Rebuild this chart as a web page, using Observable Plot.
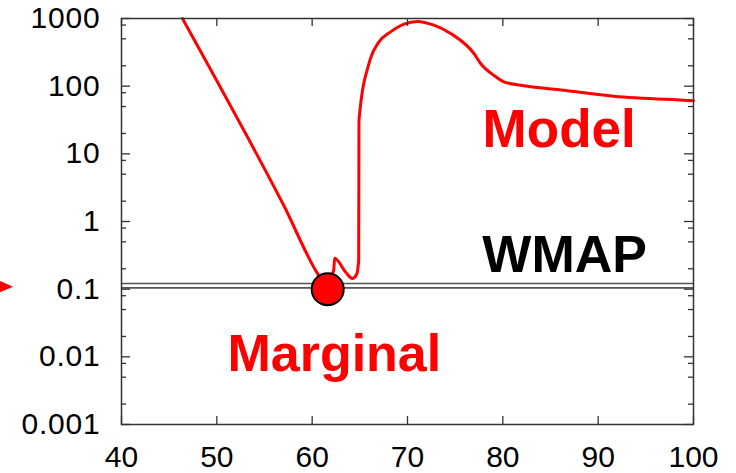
<!DOCTYPE html>
<html>
<head>
<meta charset="utf-8">
<script src="https://cdn.jsdelivr.net/npm/d3@7"></script>
<script src="https://cdn.jsdelivr.net/npm/@observablehq/plot@0.6"></script>
<style>
  html, body { margin: 0; padding: 0; background: #fff; }
  .ylab text { letter-spacing: 0.8px; }
</style>
</head>
<body>
<div id="chart"></div>
<script>
// ---- data ----
const xTicks = [40, 50, 60, 70, 80, 90, 100];
const yTicks = [0.001, 0.01, 0.1, 1, 10, 100, 1000];
const yTickLabels = ["0.001", "0.01", "0.1", "1", "10", "100", "1000"];
const yMinorTicks = [0.002, 0.005, 0.008, 0.02, 0.05, 0.08, 0.2, 0.5, 0.8,
                     2, 5, 8, 20, 50, 80, 200, 500, 800];

// Model curve (red)
const modelX = [46.4, 50.0, 53.4, 57.0, 60.55, 61.3, 62.26, 62.36, 63.52, 64.22, 64.67, 64.88, 64.91,
                66.06, 67.01, 68.23, 69.63, 71.03, 72.77, 74.53, 76.97, 77.67, 79.2, 80.11,
                81.87, 86.4, 91.65, 98.99, 100];
const modelY = [1000, 120, 15.9, 1.75, 0.171, 0.119, 0.19, 0.287, 0.178, 0.144, 0.166, 0.268, 31.4,
                242, 451, 634, 824, 903, 796, 600, 304, 216, 140, 116,
                103, 87, 71, 62, 61];

// WMAP band (two horizontal lines)
const wmapLevels = [0.1045, 0.121];

// Marginal point
const marginalX = [61.63];
const marginalY = [0.1];

// Annotations
const labelText = ["Model", "WMAP", "Marginal"];
const labelColor = ["#ff0000", "#000000", "#ff0000"];

// ---- build tables ----
const model = modelX.map((x, i) => ({x, y: modelY[i]}));
const marginal = marginalX.map((x, i) => ({x, y: marginalY[i]}));
const annotations = [
  {text: labelText[0], x: 77.88, y: 22.6, color: labelColor[0], size: 53},
  {text: labelText[1], x: 77.85, y: 0.321, color: labelColor[1], size: 52},
  {text: labelText[2], x: 51.11, y: 0.0109, color: labelColor[2], size: 52}
];

const W = 736, H = 473, mL = 121, mR = 43, mT = 18, mB = 49;
const plotW = W - mL - mR, plotH = H - mT - mB;
const frameColor = "#333";

const arrowSymbol = {
  draw(context, size) {
    const s = Math.sqrt(size / Math.PI);
    context.moveTo(s, 0);
    context.lineTo(-s, -s * 0.85);
    context.lineTo(-s, s * 0.85);
    context.closePath();
  }
};

const chart = Plot.plot({
  width: W,
  height: H,
  marginLeft: mL,
  marginRight: mR,
  marginTop: mT,
  marginBottom: mB,
  style: {
    fontFamily: "'Liberation Sans', Arial, Helvetica, sans-serif",
    fontSize: "30px",
    color: "#000",
    background: "#fff"
  },
  x: {domain: [40, 100]},
  y: {type: "log", domain: [0.001, 1000]},
  marks: [
    // WMAP lines
    Plot.ruleY(wmapLevels, {y: d => d, stroke: "#555", strokeWidth: 1.6}),
    // Model curve
    Plot.line(model, {x: "x", y: "y", stroke: "#ff0000", strokeWidth: 3, curve: "monotone-x"}),
    // Marginal point
    Plot.dot(marginal, {x: "x", y: "y", r: 16, fill: "#ff0000", stroke: "#000", strokeWidth: 2}),
    // red arrow at far left, pointing at 0.1
    Plot.dot([{x: 40, y: 0.109}], {x: "x", y: "y", symbol: arrowSymbol, r: 9, fill: "#ff0000", stroke: "none", dx: -117.5}),
    // annotations
    ...annotations.map(a => Plot.text([a], {
      x: "x", y: "y", text: "text", fill: a.color, fontSize: a.size, fontWeight: "bold",
      textAnchor: "start", lineAnchor: "middle"
    })),
    // frame
    Plot.frame({stroke: frameColor, strokeWidth: 1.5}),
    // inward ticks: left & right (major / minor)
    Plot.ruleY(yTicks, {y: d => d, insetRight: plotW - 9, stroke: frameColor, strokeWidth: 1.3}),
    Plot.ruleY(yTicks, {y: d => d, insetLeft: plotW - 9, stroke: frameColor, strokeWidth: 1.3}),
    Plot.ruleY(yMinorTicks, {y: d => d, insetRight: plotW - 5, stroke: frameColor, strokeWidth: 1.3}),
    Plot.ruleY(yMinorTicks, {y: d => d, insetLeft: plotW - 5, stroke: frameColor, strokeWidth: 1.3}),
    // inward ticks: bottom & top
    Plot.ruleX(xTicks, {x: d => d, insetTop: plotH - 8, stroke: frameColor, strokeWidth: 1.3}),
    Plot.ruleX(xTicks, {x: d => d, insetBottom: plotH - 8, stroke: frameColor, strokeWidth: 1.3}),
    // tick labels
    Plot.axisY(yTicks, {
      tickSize: 0, tickPadding: 21, label: null, fontSize: 30, className: "ylab",
      tickFormat: d => yTickLabels[yTicks.indexOf(d)]
    }),
    Plot.axisX(xTicks, {
      tickSize: 0, tickPadding: 21, label: null, fontSize: 30,
      tickFormat: d => String(d)
    })
  ]
});

document.getElementById("chart").appendChild(chart);
</script>
</body>
</html>
